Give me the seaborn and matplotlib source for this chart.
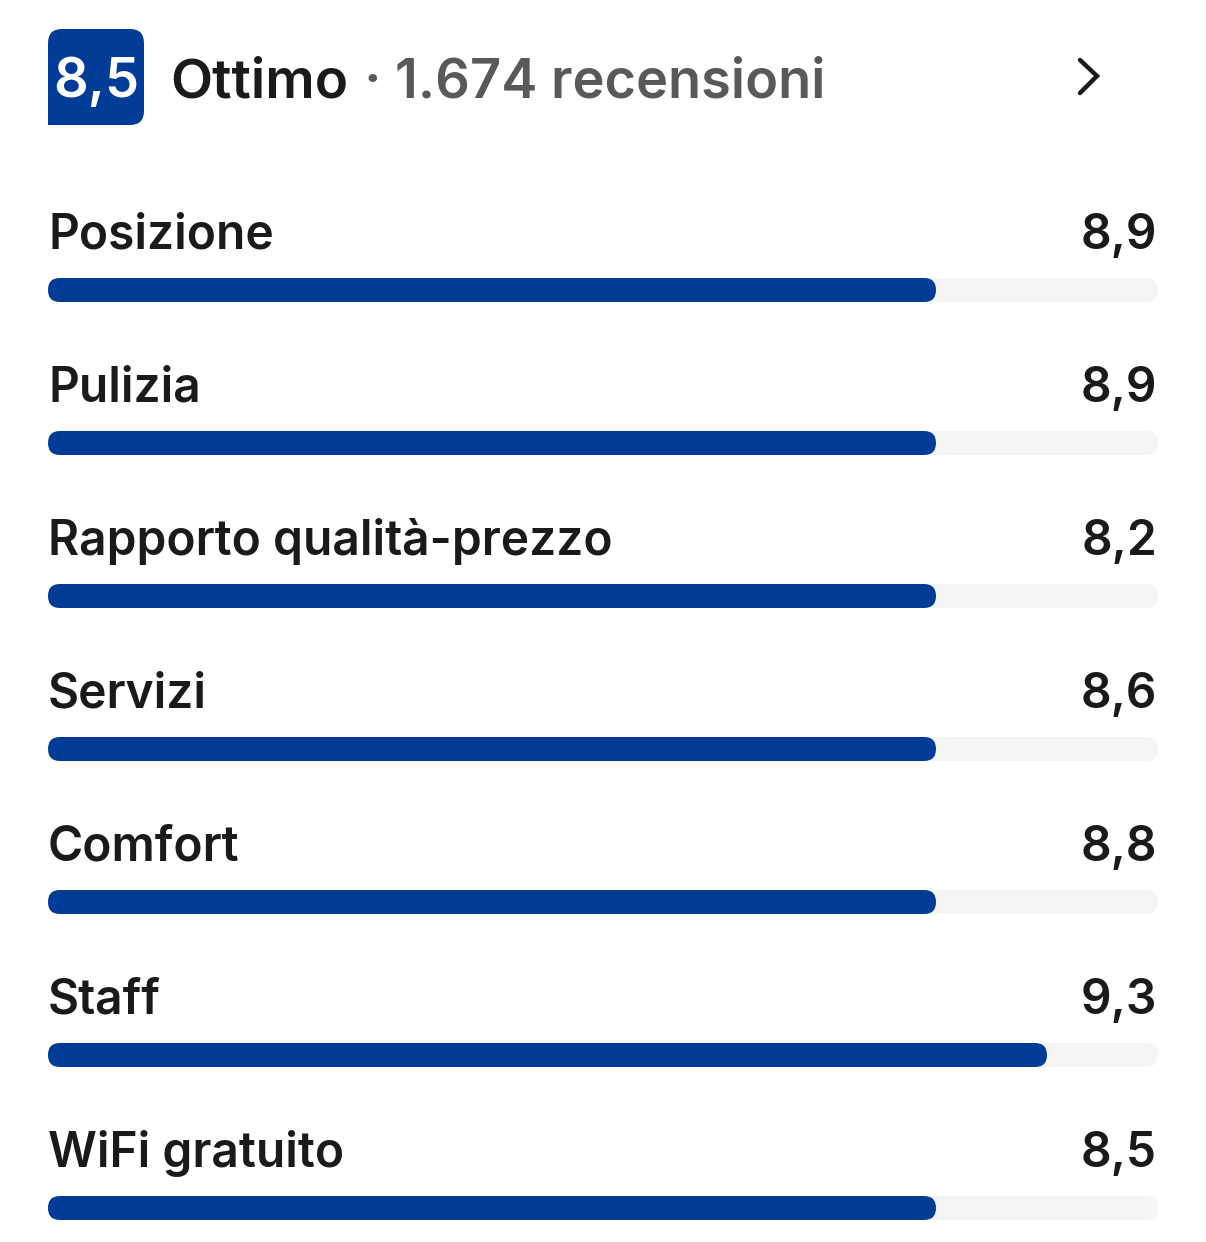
import numpy as np
import pandas as pd
import seaborn as sns
import matplotlib.pyplot as plt
from matplotlib.patches import FancyBboxPatch

# Data
overall_score = "8,5"
overall_label = "Ottimo"
review_count = "1.674 recensioni"
categories = ["Posizione", "Pulizia", "Rapporto qualità-prezzo", "Servizi",
              "Comfort", "Staff", "WiFi gratuito"]
scores = [8.9, 8.9, 8.2, 8.6, 8.8, 9.3, 8.5]
bar_fill = [8, 8, 8, 8, 8, 9, 8]  # the bars are drawn at whole-point steps
scale_max = 10

BLUE = "#003b95"
TRACK = "#f5f5f5"
INK = "#1a1a1a"
GREY = "#595959"

W, H = 1206, 1242
sns.set_theme(style="white")
plt.rcParams["font.family"] = ["Inter", "DejaVu Sans"]

fig = plt.figure(figsize=(W / 100, H / 100), dpi=100)
ax = fig.add_axes([0, 0, 1, 1])

df = pd.DataFrame({"categoria": categories, "voto": scores,
                   "barra": bar_fill, "max": [scale_max] * len(categories)})

bar_h = 24 / 153
sns.barplot(data=df, x="max", y="categoria", color=TRACK, width=bar_h,
            saturation=1, ax=ax)
sns.barplot(data=df, x="barra", y="categoria", color=BLUE, width=bar_h,
            saturation=1, ax=ax)

# swap rectangles for pill shapes
px_x, px_y = 111, 153  # pixels per data unit
rects = list(ax.patches)
for r in rects:
    x0, y0 = r.get_x(), r.get_y()
    w, h = r.get_width(), r.get_height()
    fc = r.get_facecolor()
    r.remove()
    pill = FancyBboxPatch((x0, y0), w, h,
                          boxstyle=f"round,pad=0,rounding_size={12 / px_x}",
                          mutation_aspect=px_x / px_y,
                          facecolor=fc, edgecolor="none")
    ax.add_patch(pill)

ax.set_xlim(-48 / px_x, (W - 48) / px_x)
ax.set_ylim((H - 290) / px_y, -290 / px_y)
ax.axis("off")

for i, (cat, s) in enumerate(zip(categories, scores)):
    ax.text(0.0, i - 41 / px_y, cat, fontsize=34.5, color=INK,
            fontweight="semibold", va="baseline", ha="left")
    ax.text(scale_max - 0.01, i - 41 / px_y, f"{s:.1f}".replace(".", ","),
            fontsize=34.5, color=INK, fontweight="semibold",
            va="baseline", ha="right")

# header
def fx(x):
    return x / W

def fy(y):
    return 1 - y / H

badge = FancyBboxPatch((fx(48), fy(125)), fx(96), 96 / H,
                       boxstyle=f"round,pad=0,rounding_size={14 / W}",
                       mutation_aspect=W / H, transform=fig.transFigure,
                       facecolor=BLUE, edgecolor="none")
fig.patches.append(badge)
# square bottom-left corner
fig.patches.append(plt.Rectangle((fx(48), fy(125)), fx(20), 20 / H,
                                 transform=fig.transFigure, facecolor=BLUE,
                                 edgecolor="none"))
fig.text(fx(96), fy(77), overall_score, fontsize=39, color="white",
         fontweight="semibold", ha="center", va="center_baseline")

fig.text(fx(170), fy(97), overall_label, fontsize=39.5, color=INK,
         fontweight="semibold", va="baseline", ha="left")
fig.text(fx(364), fy(97), "·", fontsize=39.5, color=GREY,
         fontweight="semibold", va="baseline", ha="left")
fig.text(fx(395), fy(97), review_count, fontsize=39, color=GREY,
         fontweight="semibold", va="baseline", ha="left")

fig.lines.append(plt.Line2D([fx(1080), fx(1097), fx(1080)],
                            [fy(60), fy(76), fy(93)],
                            transform=fig.transFigure, color=INK, lw=3.2,
                            solid_capstyle="round", solid_joinstyle="miter"))

fig.savefig("out.png", dpi=100, facecolor="white")
